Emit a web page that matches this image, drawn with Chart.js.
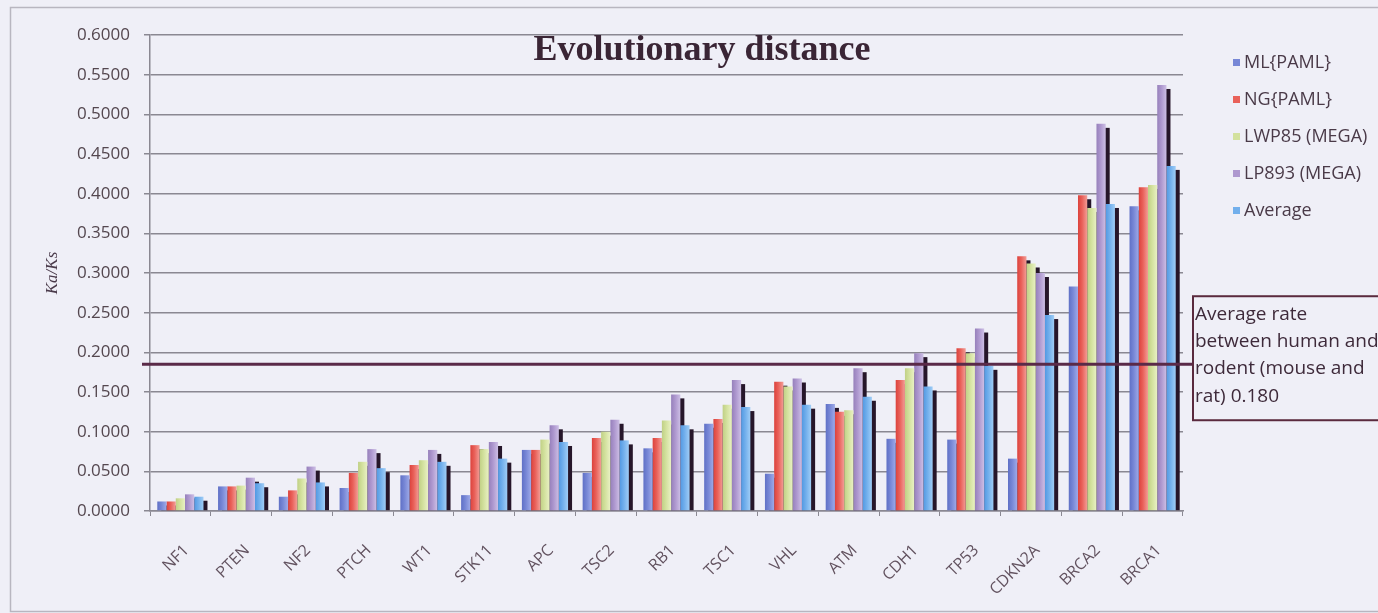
<!DOCTYPE html>
<html>
<head>
<meta charset="utf-8">
<script src="https://cdn.jsdelivr.net/npm/chart.js@4.4.1/dist/chart.umd.min.js"></script>
<style>
  html, body { margin: 0; padding: 0; background: #efeff7; }
  #c { display: block; }
</style>
</head>
<body>
<canvas id="c" width="1378" height="613"></canvas>
<script>
// ---- data ----
const genes = ['NF1','PTEN','NF2','PTCH','WT1','STK11','APC','TSC2','RB1','TSC1','VHL','ATM','CDH1','TP53','CDKN2A','BRCA2','BRCA1'];
const seriesNames = ['ML{PAML}','NG{PAML}','LWP85 (MEGA)','LP893 (MEGA)','Average'];
const mlPaml  = [0.012,0.031,0.018,0.029,0.045,0.020,0.077,0.048,0.079,0.110,0.047,0.135,0.091,0.090,0.066,0.283,0.384];
const ngPaml  = [0.012,0.031,0.026,0.048,0.058,0.083,0.077,0.092,0.092,0.116,0.163,0.125,0.165,0.205,0.321,0.398,0.408];
const lwp85   = [0.016,0.032,0.041,0.062,0.064,0.078,0.090,0.100,0.114,0.134,0.157,0.127,0.180,0.199,0.312,0.382,0.411];
const lp893   = [0.021,0.042,0.056,0.078,0.077,0.087,0.108,0.115,0.147,0.165,0.167,0.180,0.199,0.230,0.300,0.488,0.537];
const average = [0.018,0.035,0.036,0.054,0.062,0.066,0.087,0.089,0.108,0.131,0.134,0.144,0.157,0.183,0.247,0.387,0.435];
const refLineValue = 0.185;
const refLineText = ['Average rate','between human and','rodent (mouse and','rat) 0.180'];
const chartTitle = 'Evolutionary distance';
const yTitle = 'Ka/Ks';

// ---- styles ----
const fills = [
  ['#5f70c6','#7787d6','#9eaae8'],
  ['#dc423c','#e9615a','#f29d96'],
  ['#c0d085','#d3e19e','#e9f1c4'],
  ['#9680bb','#ae98cf','#cdbfe5'],
  ['#5299e2','#72afec','#a0cdf6']
];
const legendColors = ['#7787d6','#e9615a','#d3e19e','#ae98cf','#72afec'];
const CAT_PCT = 0.76;

function barGradient(ctx, di) {
  const chart = ctx.chart;
  const xs = chart.scales && chart.scales.x;
  if (!xs || ctx.dataIndex === undefined) return legendColors[di];
  const cw = (xs.right - xs.left) / genes.length;
  const bw = cw * CAT_PCT / seriesNames.length;
  const cx = xs.getPixelForValue(ctx.dataIndex);
  const x0 = cx - cw * CAT_PCT / 2 + di * bw;
  if (!isFinite(x0) || !isFinite(bw) || bw <= 0) return legendColors[di];
  const g = chart.ctx.createLinearGradient(x0, 0, x0 + bw, 0);
  g.addColorStop(0, fills[di][0]);
  g.addColorStop(0.45, fills[di][1]);
  g.addColorStop(1, fills[di][2]);
  return g;
}

const seriesValues = [mlPaml, ngPaml, lwp85, lp893, average];
const datasets = seriesValues.map((vals, i) => ({
  label: seriesNames[i],
  data: vals,
  backgroundColor: (ctx) => barGradient(ctx, i),
  borderWidth: 0,
  categoryPercentage: CAT_PCT,
  barPercentage: 1.0
}));

const bgPlugin = {
  id: 'bg',
  beforeDraw(chart) {
    const c = chart.ctx;
    c.save();
    c.fillStyle = '#efeff7';
    c.fillRect(0, 0, chart.width, chart.height);
    c.strokeStyle = '#b8b6c0';
    c.lineWidth = 1.5;
    c.strokeRect(10.5, 7.5, chart.width + 20, chart.height - 9);
    c.restore();
  }
};

const shadowPlugin = {
  id: 'shadows',
  beforeDatasetsDraw(chart) {
    const c = chart.ctx, a = chart.chartArea;
    c.save();
    c.beginPath();
    c.rect(a.left, a.top - 20, a.right - a.left + 10, a.bottom - a.top + 20);
    c.clip();
    c.fillStyle = '#26162a';
    chart.data.datasets.forEach((ds, di) => {
      const meta = chart.getDatasetMeta(di);
      meta.data.forEach(bar => {
        const p = bar.getProps(['x','y','base','width'], true);
        const dx = 4, dy = 4;
        c.fillRect(p.x - p.width / 2 + dx, p.y + dy, p.width, p.base - p.y - dy);
      });
    });
    c.restore();
  }
};

const overlayPlugin = {
  id: 'overlay',
  afterDraw(chart) {
    const c = chart.ctx, a = chart.chartArea, ys = chart.scales.y;
    c.save();
    const ry = ys.getPixelForValue(refLineValue);
    c.strokeStyle = '#5a2a48';
    c.lineWidth = 3;
    c.beginPath();
    c.moveTo(a.left - 8, ry);
    c.lineTo(a.right + 10, ry);
    c.stroke();
    const bx = a.right + 10, by = ry - 68;
    c.fillStyle = '#efeff7';
    c.fillRect(bx, by, 220, 124);
    c.strokeStyle = '#5a2a3e';
    c.lineWidth = 2;
    c.strokeRect(bx, by, 220, 124);
    c.fillStyle = '#3e2a3a';
    c.font = '19px "Open Sans"';
    c.textAlign = 'left';
    c.textBaseline = 'middle';
    refLineText.forEach((t, i) => c.fillText(t, bx + 2, by + 18 + i * 27.3));
    c.fillStyle = '#3a2535';
    c.font = 'bold 36px "Liberation Serif"';
    c.textAlign = 'center';
    c.textBaseline = 'alphabetic';
    c.fillText(chartTitle, 702, 60);
    c.font = '18px "Open Sans"';
    c.textAlign = 'left';
    c.textBaseline = 'middle';
    chart.data.datasets.forEach((ds, i) => {
      const yy = 63 + i * 37;
      c.fillStyle = legendColors[i];
      c.fillRect(1233, yy - 4, 7, 7);
      c.fillStyle = '#4a3a48';
      c.fillText(ds.label, 1244, yy);
    });
    c.restore();
  }
};

new Chart(document.getElementById('c'), {
  type: 'bar',
  data: { labels: genes, datasets },
  options: {
    responsive: false,
    devicePixelRatio: 1,
    animation: false,
    layout: { padding: { left: 0, right: 195, top: 35, bottom: 0 } },
    plugins: { legend: { display: false }, tooltip: { enabled: false }, title: { display: false } },
    scales: {
      y: {
        min: 0, max: 0.6,
        ticks: {
          stepSize: 0.05,
          callback: v => Number(v).toFixed(4),
          font: { family: '"Open Sans"', size: 17 },
          color: '#54474f',
          padding: 14
        },
        grid: { color: '#8a8892', lineWidth: 1.5, tickLength: 6 },
        border: { color: '#8a8892', width: 1.5 },
        title: {
          display: true, text: yTitle, color: '#4a3a4a',
          font: { family: '"Liberation Serif"', style: 'italic', size: 17 },
          padding: { top: 42, bottom: 0 }
        },
        afterFit(scale) { scale.width = 150; }
      },
      x: {
        ticks: {
          autoSkip: false, maxRotation: 45, minRotation: 45,
          font: { family: '"Open Sans"', size: 16 },
          color: '#62525f',
          padding: 25,
          labelOffset: 6
        },
        grid: { drawOnChartArea: false, drawTicks: true, tickLength: 5, color: '#8a8892', offset: true },
        border: { color: '#8a8892', width: 1.5 },
        afterFit(scale) { scale.height = 102; }
      }
    }
  },
  plugins: [bgPlugin, shadowPlugin, overlayPlugin]
});
</script>
</body>
</html>
